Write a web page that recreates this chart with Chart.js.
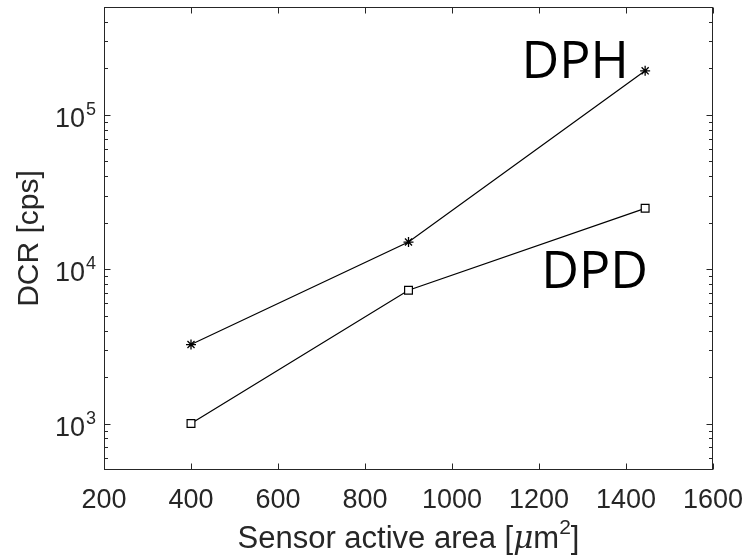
<!DOCTYPE html>
<html lang="en">
<head>
  <meta charset="UTF-8">
  <title>DCR vs sensor active area</title>
  <style>
    body {
      margin: 0;
      background: #ffffff;
    }
    #wrap {
      width: 748px;
      height: 556px;
    }
  </style>
</head>
<body>

<div id="wrap"><canvas id="chart" width="748" height="556"></canvas></div>

<script src="https://cdn.jsdelivr.net/npm/chart.js"></script>

<script>

// data
const sensorArea = [400, 900, 1444];        // um^2
const dphDCR = [3250, 15000, 193000];        // cps
const dpdDCR = [1000, 7300, 24800];          // cps

// axes
const xTicks = [200, 400, 600, 800, 1000, 1200, 1400, 1600];
const yDecades = [3, 4, 5];                  // 10^3, 10^4, 10^5
const yMin = 500, yMax = 500000;

const axisColor = '#262626';
const tickFont = '"Liberation Sans", Arial, sans-serif';

// ticks, box, labels and the DPH / DPD notes, MATLAB style
const matlabAxes = {
  id: 'matlabAxes',
  afterDraw(chart) {
    const ctx = chart.ctx;
    const a = chart.chartArea;
    const xs = chart.scales.x, ys = chart.scales.y;
    const L = Math.round(a.left) + 0.5, R = Math.round(a.right) - 0.5;
    const T = Math.round(a.top) + 0.5, B = Math.round(a.bottom) - 0.5;

    ctx.save();
    ctx.strokeStyle = axisColor;
    ctx.lineWidth = 1;
    ctx.strokeRect(L, T, R - L, B - T);

    ctx.beginPath();
    xTicks.forEach(v => {
      const px = Math.round(xs.getPixelForValue(v)) + 0.5;
      ctx.moveTo(px, B); ctx.lineTo(px, B - 6);
      ctx.moveTo(px, T); ctx.lineTo(px, T + 6);
    });
    for (let e = 2; e <= 5; e++) {
      for (let k = 1; k <= 9; k++) {
        const v = k * Math.pow(10, e);
        if (v <= yMin || v >= yMax) continue;
        const len = k === 1 ? 6 : 3.5;
        const py = Math.round(ys.getPixelForValue(v)) + 0.5;
        ctx.moveTo(L, py); ctx.lineTo(L + len, py);
        ctx.moveTo(R, py); ctx.lineTo(R - len, py);
      }
    }
    ctx.stroke();

    // y tick labels 10^n
    ctx.fillStyle = axisColor;
    ctx.textBaseline = 'alphabetic';
    yDecades.forEach(n => {
      const py = ys.getPixelForValue(Math.pow(10, n));
      ctx.font = '18px ' + tickFont;
      ctx.textAlign = 'right';
      const supW = ctx.measureText(String(n)).width;
      ctx.fillText(String(n), 96, py + 0);
      ctx.font = '27px ' + tickFont;
      ctx.fillText('10', 96 - supW - 1, py + 12);
    });

    // x title with italic mu and superscript 2
    const parts = [
      { t: 'Sensor active area [', f: '31px ' + tickFont, dy: 0 },
      { t: 'μ', f: 'italic 31px "DejaVu Serif", serif', dy: 0 },
      { t: 'm', f: '31px ' + tickFont, dy: 0 },
      { t: '2', f: '21px ' + tickFont, dy: -14 },
      { t: ']', f: '31px ' + tickFont, dy: 0 }
    ];
    let total = 0;
    parts.forEach(p => { ctx.font = p.f; p.w = ctx.measureText(p.t).width; total += p.w; });
    let x = (a.left + a.right) / 2 - total / 2;
    ctx.textAlign = 'left';
    parts.forEach(p => {
      ctx.font = p.f;
      ctx.fillText(p.t, x, 548 + p.dy);
      x += p.w;
    });

    // y title
    ctx.save();
    ctx.translate(38, (a.top + a.bottom) / 2);
    ctx.rotate(-Math.PI / 2);
    ctx.textAlign = 'center';
    ctx.font = '30px ' + tickFont;
    ctx.fillText('DCR [cps]', 0, 0);
    ctx.restore();

    // series names
    ctx.fillStyle = '#000000';
    ctx.font = '52px "Open Sans", "Noto Sans", sans-serif';
    ctx.textAlign = 'left';
    ctx.fillText('DPH', xs.getPixelForValue(1160), ys.getPixelForValue(173000));
    ctx.fillText('DPD', xs.getPixelForValue(1205), ys.getPixelForValue(7500));
    ctx.restore();
  }
};

new Chart(document.getElementById('chart'), {
  type: 'line',
  data: {
    datasets: [{
      label: 'DPH',
      data: sensorArea.map((x, i) => ({ x: x, y: dphDCR[i] })),
      borderColor: '#000000',
      borderWidth: 1.2,
      pointStyle: 'star',
      pointRadius: 5,
      pointBorderColor: '#000000',
      pointBorderWidth: 1.3,
      pointBackgroundColor: '#000000',
      tension: 0
    }, {
      label: 'DPD',
      data: sensorArea.map((x, i) => ({ x: x, y: dpdDCR[i] })),
      borderColor: '#000000',
      borderWidth: 1.2,
      pointStyle: 'rect',
      pointRadius: 5.5,
      pointBorderColor: '#000000',
      pointBorderWidth: 1.2,
      pointBackgroundColor: '#ffffff',
      tension: 0
    }]
  },
  options: {
    responsive: false,
    animation: false,
    layout: { padding: { top: 7, right: 35, left: 0, bottom: 0 } },
    plugins: {
      legend: { display: false },
      tooltip: { enabled: false }
    },
    scales: {
      x: {
        type: 'linear',
        min: 200,
        max: 1600,
        afterBuildTicks: s => { s.ticks = xTicks.map(v => ({ value: v })); },
        afterFit: s => { s.height = 86; s.paddingLeft = 0; s.paddingRight = 0; },
        grid: { display: false },
        border: { display: false },
        ticks: {
          color: axisColor,
          font: { family: tickFont, size: 27 },
          padding: 6,
          maxRotation: 0,
          autoSkip: false,
          callback: v => String(v)
        }
      },
      y: {
        type: 'logarithmic',
        min: yMin,
        max: yMax,
        afterFit: s => { s.width = 104; },
        grid: { display: false },
        border: { display: false },
        ticks: { display: false }
      }
    }
  },
  plugins: [matlabAxes]
});

</script>

</body>
</html>
